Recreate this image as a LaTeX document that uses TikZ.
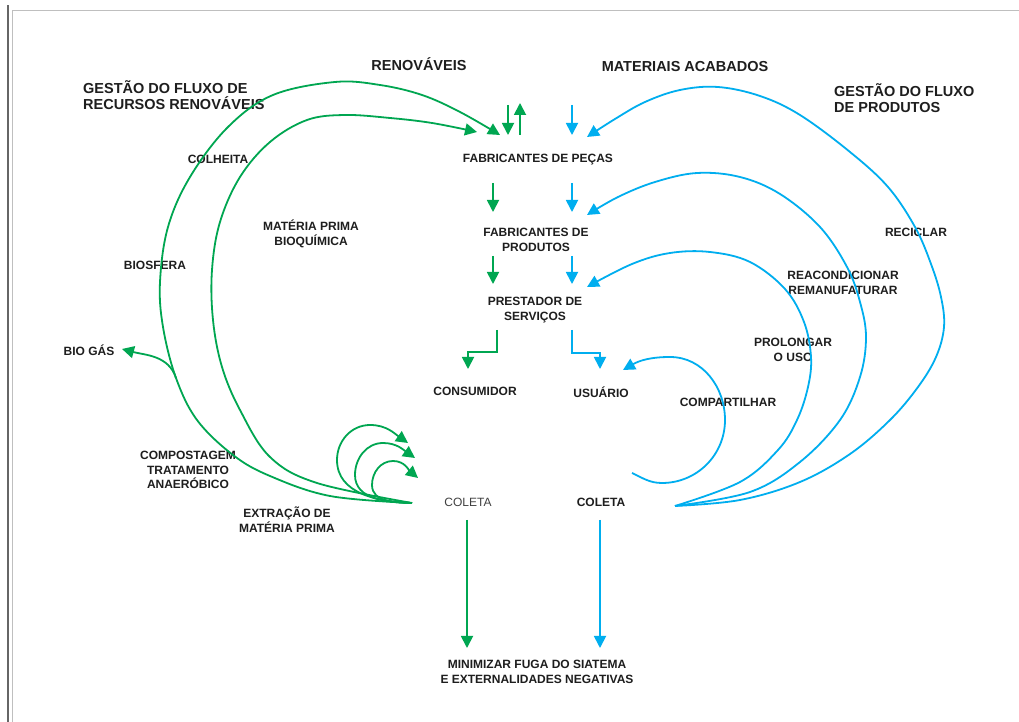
\documentclass[tikz,border=0pt]{standalone}
\usepackage{fontspec}
\setmainfont{Liberation Sans}
\usetikzlibrary{arrows.meta}
\definecolor{gr}{RGB}{0,166,81}
\definecolor{bl}{RGB}{0,174,239}
\definecolor{tx}{RGB}{30,30,30}
\begin{document}
\begin{tikzpicture}[x=1pt,y=1pt,
  lbl/.style={font=\fontsize{12}{14.8}\selectfont\bfseries, text=tx, align=center, inner sep=0pt},
  head/.style={font=\fontsize{14.5}{16.5}\selectfont\bfseries, text=tx, align=left, inner sep=0pt},
  garr/.style={draw=gr, line width=1.8pt, -{Triangle[length=12pt,width=12pt]}},
  barr/.style={draw=bl, line width=1.8pt, -{Triangle[length=12pt,width=12pt]}}]
\useasboundingbox (0,0) rectangle (1019,722);
\fill[white] (0,0) rectangle (1019,722);
% frame
\draw[line width=1.2pt, black!60] (8,0) -- (8,717);
\draw[line width=1pt, black!25] (12,0) -- (12,711) -- (1019,711);

% headings
\node[head, anchor=west] (hL) at (83,627) {GESTÃO DO FLUXO DE\\RECURSOS RENOVÁVEIS};
\node[head, align=center] (hRen) at (419,658) {RENOVÁVEIS};
\node[head, align=center] (hMat) at (685,655) {MATERIAIS ACABADOS};
\node[head, anchor=west] (hR) at (834,624) {GESTÃO DO FLUXO\\DE PRODUTOS};

% central column
\node[lbl] (pecas) at (538,562) {FABRICANTES DE PEÇAS};
\node[lbl] (prod) at (536,482) {FABRICANTES DE\\PRODUTOS};
\node[lbl] (prest) at (535,412) {PRESTADOR DE\\SERVIÇOS};
\node[lbl] (cons) at (475,331) {CONSUMIDOR};
\node[lbl] (usu) at (601,330) {USUÁRIO};
\node[lbl, font=\fontsize{12}{14.8}\selectfont, text=black!75] (colL) at (468,220) {COLETA};
\node[lbl] (colR) at (601,220) {COLETA};
\node[lbl] (mini) at (537,50) {MINIMIZAR FUGA DO SIATEMA\\E EXTERNALIDADES NEGATIVAS};

% left labels
\node[lbl] (colh) at (218,563) {COLHEITA};
\node[lbl] (mpb) at (311,488) {MATÉRIA PRIMA\\BIOQUÍMICA};
\node[lbl] (bios) at (155,457) {BIOSFERA};
\node[lbl] (biog) at (89,372) {BIO GÁS};
\node[lbl] (comp) at (188,252) {COMPOSTAGEM\\TRATAMENTO\\ANAERÓBICO};
\node[lbl] (extr) at (287,202) {EXTRAÇÃO DE\\MATÉRIA PRIMA};

% right labels
\node[lbl] (reci) at (916,490) {RECICLAR};
\node[lbl] (reac) at (843,439) {REACONDICIONAR\\REMANUFATURAR};
\node[lbl] (prol) at (793,372) {PROLONGAR\\O USO};
\node[lbl] (compa) at (728,320) {COMPARTILHAR};

% coordinates for straight arrows
\coordinate (g1a) at (508,617); \coordinate (g1b) at (508,587);
\coordinate (g2a) at (520,587); \coordinate (g2b) at (520,619);
\coordinate (b1a) at (572,617); \coordinate (b1b) at (572,587);
\coordinate (g3a) at (493,539); \coordinate (g3b) at (493,510);
\coordinate (b3a) at (572,539); \coordinate (b3b) at (572,510);
\coordinate (g4a) at (493,466); \coordinate (g4b) at (493,438);
\coordinate (b4a) at (572,466); \coordinate (b4b) at (572,438);
\coordinate (g5a) at (497,392); \coordinate (g5b) at (468,353);
\coordinate (b5a) at (572,392); \coordinate (b5b) at (600,353);
\coordinate (g6a) at (467,202); \coordinate (g6b) at (467,74);
\coordinate (b6a) at (600,202); \coordinate (b6b) at (600,74);

\draw[garr] (g1a) -- (g1b);
\draw[garr] (g2a) -- (g2b);
\draw[barr] (b1a) -- (b1b);
\draw[garr] (g3a) -- (g3b);
\draw[barr] (b3a) -- (b3b);
\draw[garr] (g4a) -- (g4b);
\draw[barr] (b4a) -- (b4b);
\draw[garr] (g5a) -- (497,370) -| (g5b);
\draw[barr] (b5a) -- (572,369) -| (b5b);
\draw[garr] (g6a) -- (g6b);
\draw[barr] (b6a) -- (b6b);

% green arcs
\coordinate (gA) at (412,219);
\coordinate (gO) at (500,587);
\coordinate (gI) at (477,590);
\coordinate (bgS) at (176,344);
\coordinate (bgT) at (122,373);
\draw[garr] plot[smooth, tension=0.6] coordinates {(gA) (330,226) (270,246) (233,267) (197,302) (176,344)
  (163,395) (160,440) (168,495) (190,545) (228,595) (273,627) (335,640) (380,637) (422,627) (460,610) (gO)};
\draw[garr] plot[smooth, tension=0.6] coordinates {(gA) (317,239) (270,265) (240,312) (222,355) (213,402)
  (212,452) (220,500) (240,545) (270,580) (307,602) (345,607) (390,604) (432,599) (gI)};
\draw[garr] (bgS) to[out=108,in=-15] (bgT);
% small loops
\draw[garr] (gA) to[out=178,in=-90] (337,262) to[out=90,in=180] (370,297) to[out=0,in=145] (408,279);
\draw[garr] (gA) to[out=178,in=-90] (355,247) to[out=90,in=180] (383,279) to[out=0,in=145] (415,264);
\draw[garr] (gA) to[out=178,in=-90] (372,237) to[out=90,in=180] (393,261) to[out=0,in=140] (418,244);

% blue arcs
\coordinate (bP) at (675,216);
\coordinate (bO) at (587,585);
\coordinate (bM) at (587,507);
\coordinate (bI) at (587,435);
\draw[barr] plot[smooth, tension=0.6] coordinates {(bP) (740,222) (800,240) (850,268) (890,302) (918,335)
  (936,365) (944,395) (941,425) (931,458) (915,495) (888,535) (850,570) (800,607) (760,626) (718,635)
  (680,632) (645,620) (615,603) (bO)};
\draw[barr] plot[smooth, tension=0.6] coordinates {(bP) (750,230) (800,260) (840,302) (860,345) (866,385)
  (860,420) (847,455) (820,495) (780,528) (740,545) (697,549) (655,540) (618,525) (bM)};
\draw[barr] plot[smooth, tension=0.6] coordinates {(bP) (740,240) (778,272) (797,302) (808,335) (811,365)
  (804,400) (785,433) (750,460) (710,470) (670,469) (632,458) (bI)};
\coordinate (cS) at (632,249);
\coordinate (cT) at (623,352);
\draw[barr] (cS) to[out=-25,in=180] (662,239) to[out=0,in=-90] (725,302)
  to[out=90,in=0] (670,365) to[out=180,in=30] (cT);
\end{tikzpicture}
\end{document}
